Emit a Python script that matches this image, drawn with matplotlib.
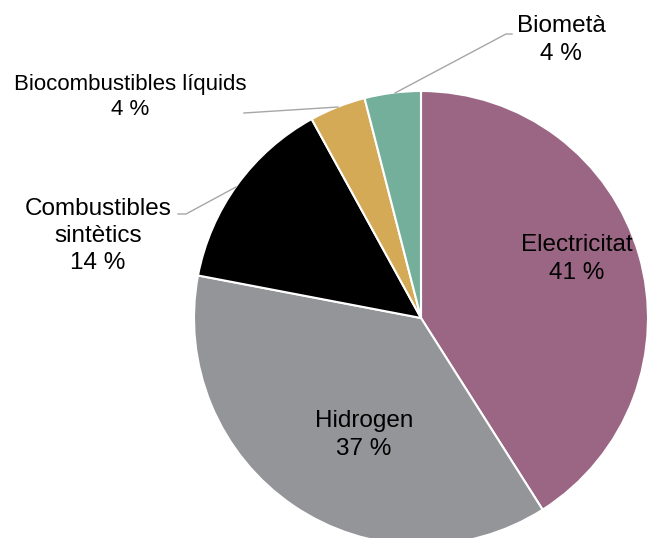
import matplotlib.pyplot as plt

# shares of final energy (%)
labels = ["Electricitat", "Hidrogen", "Combustibles\nsintètics", "Biocombustibles líquids", "Biometà"]
shares = [41, 37, 14, 4, 4]
colors = ["#9B6683", "#939598", "#000000", "#D4AA56", "#73AF9B"]

plt.rcParams['font.family'] = ['Liberation Sans', 'DejaVu Sans']

fig = plt.figure(figsize=(6.48, 5.38), dpi=100)
ax = fig.add_axes([0, 0, 1, 1])
H = 538  # image height, text positions below are given from the top

ax.pie(shares, colors=colors, startangle=90, counterclock=False,
       center=(421, H - 318), radius=227,
       wedgeprops=dict(edgecolor='white', linewidth=1.5))

ax.set_xlim(0, 648)
ax.set_ylim(0, H)
ax.set_aspect('equal')
ax.axis('off')

# label positions (centre of text block) and font sizes
label_pos = [(577, 259), (364, 435), (98, 236), (130, 97), (561, 40)]
label_size = [17.5, 17.5, 17.5, 16, 17.5]
for name, v, (x, y), fs in zip(labels, shares, label_pos, label_size):
    ax.text(x, H - y, f"{name}\n{v} %", ha='center', va='center',
            fontsize=fs, color='black', linespacing=1.3)

# leader lines for the outside labels
leaders = [
    [(178, 214), (186, 214), (236, 187)],
    [(244, 113), (338, 107)],
    [(512, 34), (506, 34), (395, 93)],
]
for pts in leaders:
    xs = [p[0] for p in pts]
    ys = [H - p[1] for p in pts]
    ax.plot(xs, ys, color='#A6A6A6', linewidth=1)

fig.savefig("out.png", dpi=100)
